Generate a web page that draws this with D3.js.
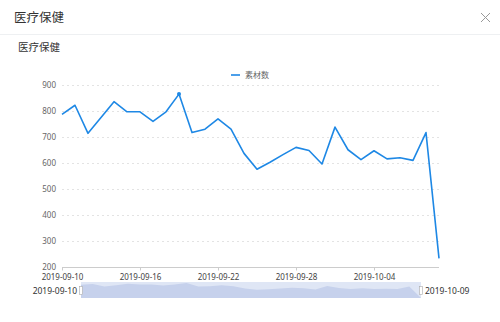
<!DOCTYPE html>
<html><head><meta charset="utf-8">
<script src="https://cdn.jsdelivr.net/npm/d3@7"></script>
<style>
html,body{margin:0;padding:0;background:#fff;}
svg{display:block;font-family:"Noto Sans CJK SC","Noto Sans",sans-serif;}
</style></head>
<body>
<svg id="c" width="500" height="322"></svg>
<script>
const dates = ["2019-09-10","2019-09-11","2019-09-12","2019-09-13","2019-09-14","2019-09-15","2019-09-16","2019-09-17","2019-09-18","2019-09-19","2019-09-20","2019-09-21","2019-09-22","2019-09-23","2019-09-24","2019-09-25","2019-09-26","2019-09-27","2019-09-28","2019-09-29","2019-09-30","2019-10-01","2019-10-02","2019-10-03","2019-10-04","2019-10-05","2019-10-06","2019-10-07","2019-10-08","2019-10-09"];
const values = [787,822,714,775,836,797,797,760,797,865,717,730,770,730,637,576,603,632,660,648,596,738,651,613,647,616,620,610,717,233];
const yTicks = [200,300,400,500,600,700,800,900];
const xTickLabels = ["2019-09-10","2019-09-16","2019-09-22","2019-09-28","2019-10-04"];
const seriesName = "素材数";
const title = "医疗保健";

const svg = d3.select("#c");
const lineColor = "#1e88e5";

// header
svg.append("text").attr("x",14).attr("y",22).attr("font-size",12.5).attr("fill","#333").text(title);
svg.append("path").attr("d","M481,13 L490,22 M490,13 L481,22").attr("stroke","#999").attr("stroke-width",1);
svg.append("line").attr("x1",0).attr("x2",500).attr("y1",34.5).attr("y2",34.5).attr("stroke","#eef0f2");
svg.append("text").attr("x",18).attr("y",51).attr("font-size",10.5).attr("fill","#333").text(title);

const x = d3.scalePoint().domain(dates).range([62,439]);
const y = d3.scaleLinear().domain([200,900]).range([267,85]);

// grid
svg.append("g").selectAll("line").data(yTicks.filter(d=>d>200)).join("line")
  .attr("x1",62).attr("x2",439).attr("y1",d=>Math.round(y(d))+0.5).attr("y2",d=>Math.round(y(d))+0.5)
  .attr("stroke","#e3e3e3").attr("stroke-dasharray","2,3");

// y axis labels
const yAxis = d3.axisLeft(y).tickValues(yTicks).tickSize(0).tickPadding(6);
const ga = svg.append("g").attr("transform","translate(62,0)").call(yAxis);
ga.select(".domain").remove();
ga.selectAll("text").attr("font-size",8).attr("fill","#666").attr("font-family","'Noto Sans','Noto Sans CJK SC',sans-serif");

// x axis
const xAxis = d3.axisBottom(x).tickValues(xTickLabels).tickSize(3).tickPadding(4);
const gx = svg.append("g").attr("transform","translate(0,267.5)").call(xAxis);
gx.select(".domain").attr("stroke","#ccc").attr("d","M62,0H439");
gx.selectAll("line").attr("stroke","#ccc");
gx.selectAll("text").attr("font-size",8).attr("fill","#444").attr("font-family","'Noto Sans','Noto Sans CJK SC',sans-serif");

// line
const line = d3.line().x((d,i)=>x(dates[i])).y(d=>y(d));
svg.append("path").datum(values).attr("d",line).attr("fill","none").attr("stroke",lineColor).attr("stroke-width",1.6).attr("stroke-linejoin","round");
const maxI = values.indexOf(d3.max(values));
svg.append("circle").attr("cx",x(dates[maxI])).attr("cy",y(values[maxI])).attr("r",2).attr("fill",lineColor);

// legend
svg.append("line").attr("x1",231).attr("x2",240).attr("y1",75).attr("y2",75).attr("stroke",lineColor).attr("stroke-width",1.6);
svg.append("text").attr("x",245).attr("y",78).attr("font-size",8).attr("fill","#666").text(seriesName);

// data zoom slider
const sx = d3.scalePoint().domain(dates).range([81,421]);
const sy = d3.scaleLinear().domain([d3.min(values),d3.max(values)]).range([298,283]);
svg.append("rect").attr("x",81).attr("y",282).attr("width",340).attr("height",16).attr("fill","#dfe6f5");
const area = d3.area().x((d,i)=>sx(dates[i])).y0(298).y1(d=>sy(d));
svg.append("path").datum(values).attr("d",area).attr("fill","#c6d1ec");
svg.append("rect").attr("x",79.5).attr("y",286.5).attr("width",3).attr("height",8).attr("fill","#fff").attr("stroke","#aaa").attr("stroke-width",0.6);
svg.append("rect").attr("x",419.5).attr("y",286.5).attr("width",3).attr("height",8).attr("fill","#fff").attr("stroke","#aaa").attr("stroke-width",0.6);
svg.append("text").attr("x",77).attr("y",294).attr("text-anchor","end").attr("font-size",8.5).attr("fill","#333").attr("font-family","'Noto Sans',sans-serif").text(dates[0]);
svg.append("text").attr("x",425).attr("y",294).attr("font-size",8.5).attr("fill","#333").attr("font-family","'Noto Sans',sans-serif").text(dates[dates.length-1]);
</script>
</body></html>
